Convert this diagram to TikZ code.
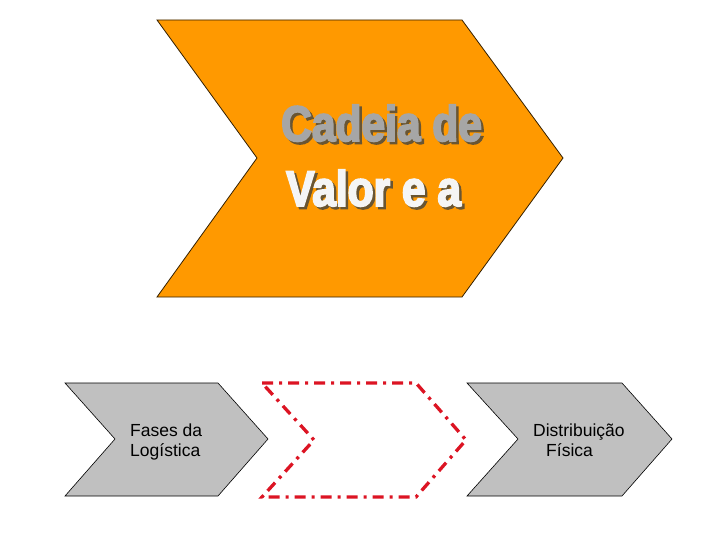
\documentclass[tikz,border=0pt]{standalone}
\usepackage{fontspec}
\setmainfont{Liberation Sans}
\newfontfamily\titlefont[FakeStretch=0.85,FakeBold=3.5]{Liberation Sans Bold}
\usetikzlibrary{positioning}
\definecolor{chevorange}{RGB}{255,153,0}
\definecolor{chevgray}{RGB}{192,192,192}
\definecolor{chevred}{RGB}{220,20,35}
\definecolor{titleshadow}{RGB}{105,85,50}
\newcommand\shadowed[2]{%
  \makebox[0pt][l]{\hspace{2.5pt}\raisebox{-2.5pt}{\color{titleshadow}#2}}%
  \textcolor{#1}{#2}}

\begin{document}
\begin{tikzpicture}[
  x=1pt,y=-1pt,
  chevron/.style={
    draw=black,
    fill=chevgray,
    line width=.6pt
  },
  phasebox/.style={
    draw=chevred,
    line width=3.3pt,
    dash pattern=on 11pt off 6pt on 3pt off 6pt
  },
  title/.style={
    font=\titlefont\fontsize{50}{54}\selectfont,
    inner sep=0pt,
    anchor=base west
  },
  label/.style={
    font=\fontsize{17.5}{20}\selectfont,
    align=left,
    inner sep=0pt,
    anchor=north west
  }
]
  \useasboundingbox (0,0) rectangle (720,540);

  % big chevron
  \draw[draw=black!80!chevorange,fill=chevorange,line width=.8pt]
    (157,20) -- (462,20) -- (563,158) -- (462,297) -- (157,297) -- (257,158) -- cycle;

  \node[title] (cadeia) at (281,141) {\shadowed{black!35}{Cadeia de}};
  \node[title] (valor) at (286,206) {\shadowed{white!96!black}{Valor e a}};

  % phases
  \draw[chevron]
    (65,383) -- (218,383) -- (268,439) -- (218,496) -- (65,496) -- (115,439) -- cycle;
  \draw[phasebox]
    (262,383) -- (416,383) -- (466,440) -- (416,497) -- (262,497) -- (314,440) -- cycle;
  \draw[chevron]
    (467,383) -- (622,383) -- (672,439) -- (622,496) -- (467,496) -- (518,439) -- cycle;

  \node[label] (fases) at (130,424) {Fases da\\Logística};
  \node[label] (distribuicao) at (533,424) {Distribuição\\\hspace*{13pt}Física};
\end{tikzpicture}
\end{document}
